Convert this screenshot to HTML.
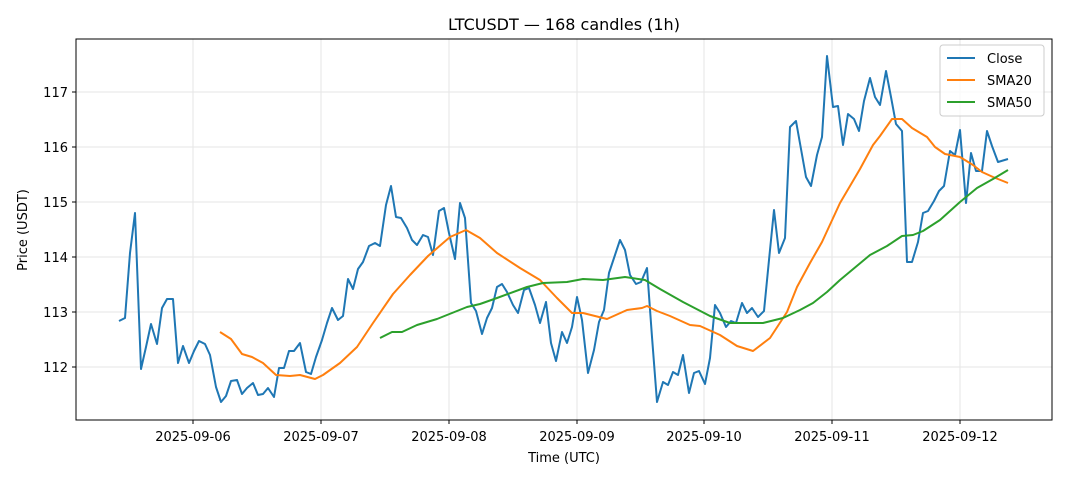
<!DOCTYPE html>
<html><head><meta charset="utf-8"><style>
body{margin:0;background:#fff}
svg{display:block;font-family:"DejaVu Sans","Liberation Sans",sans-serif}
</style></head><body>
<svg width="1068" height="481" viewBox="0 0 1068 481">
<rect width="1068" height="481" fill="#fff"/>
<g stroke="#e6e6e6" stroke-width="1">
<line x1="193" y1="39" x2="193" y2="420"/><line x1="321" y1="39" x2="321" y2="420"/><line x1="449" y1="39" x2="449" y2="420"/><line x1="577" y1="39" x2="577" y2="420"/><line x1="704" y1="39" x2="704" y2="420"/><line x1="832" y1="39" x2="832" y2="420"/><line x1="960" y1="39" x2="960" y2="420"/>
<line x1="76" y1="92" x2="1052" y2="92"/><line x1="76" y1="147" x2="1052" y2="147"/><line x1="76" y1="202" x2="1052" y2="202"/><line x1="76" y1="257" x2="1052" y2="257"/><line x1="76" y1="312" x2="1052" y2="312"/><line x1="76" y1="367" x2="1052" y2="367"/>
</g>
<g fill="none" stroke-width="2" stroke-linejoin="round">
<polyline stroke="#1f77b4" points="119,321 125,318 130,253 135,213 141,369 146,347 151,324 157,344 162,308 167,299 173,299 178,363 183,346 189,363 194,351 199,341 205,344 210,355 216,387 221,402 226,396 231,381 237,380 242,394 247,388 253,383 258,395 263,394 268,388 274,397 279,368 284,368 289,351 294,351 300,343 306,372 311,374 316,357 322,340 327,323 332,308 338,320 343,316 348,279 353,289 358,269 363,262 369,246 375,243 380,246 386,205 391,186 396,217 401,218 407,228 412,240 417,245 423,235 428,237 433,255 439,211 444,208 449,233 455,259 460,203 465,218 471,303 476,311 482,334 487,318 492,308 497,287 502,284 507,292 513,305 518,313 524,290 529,288 535,305 540,323 546,302 551,343 556,361 562,332 567,343 572,327 577,297 582,320 588,373 594,350 599,322 604,310 609,273 615,255 620,240 625,250 630,275 636,284 641,282 647,268 652,337 657,402 663,382 668,385 673,372 678,375 683,355 689,393 694,373 699,371 705,384 710,358 715,305 720,313 726,327 731,321 736,323 742,303 747,313 752,308 758,317 764,311 769,260 774,210 779,253 785,238 790,127 796,121 806,177 811,186 817,155 822,137 827,56 833,107 838,106 843,145 848,114 854,119 859,131 864,101 870,78 875,97 880,105 886,71 891,97 896,124 902,131 907,262 912,262 918,242 923,213 928,211 934,201 939,191 944,186 950,151 955,155 960,130 966,203 971,153 976,171 982,171 987,131 992,146 998,162 1008,159"/>
<polyline stroke="#ff7f0e" points="220,332 231,339 242,354 252,357 263,363 276,375 290,376 300,375 315,379 323,375 340,363 357,347 373,323 393,294 410,275 428,256 450,237 466,230 480,238 497,253 520,268 540,280 557,298 572,313 583,313 607,319 627,310 642,308 647,306 657,311 670,316 690,325 700,326 720,335 737,346 753,351 770,338 787,312 797,287 810,263 822,242 840,203 860,169 873,145 880,136 892,119 902,119 912,128 927,137 935,147 945,154 960,157 973,165 982,172 993,177 1008,183"/>
<polyline stroke="#2ca02c" points="380,338 392,332 402,332 417,325 437,319 467,307 480,304 497,298 527,287 543,283 567,282 583,279 603,280 625,277 645,280 660,289 683,302 710,316 730,323 763,323 783,318 800,310 813,303 827,292 840,280 852,270 870,255 887,246 902,236 913,235 923,231 940,220 960,202 977,188 993,179 1008,170"/>
</g>
<rect x="76" y="39" width="976" height="381" fill="none" stroke="#000" stroke-width="1"/>
<g stroke="#000" stroke-width="1">
<line x1="193" y1="420" x2="193" y2="424"/><line x1="321" y1="420" x2="321" y2="424"/><line x1="449" y1="420" x2="449" y2="424"/><line x1="577" y1="420" x2="577" y2="424"/><line x1="704" y1="420" x2="704" y2="424"/><line x1="832" y1="420" x2="832" y2="424"/><line x1="960" y1="420" x2="960" y2="424"/>
<line x1="72" y1="92" x2="76" y2="92"/><line x1="72" y1="147" x2="76" y2="147"/><line x1="72" y1="202" x2="76" y2="202"/><line x1="72" y1="257" x2="76" y2="257"/><line x1="72" y1="312" x2="76" y2="312"/><line x1="72" y1="367" x2="76" y2="367"/>
</g>
<g font-size="13" fill="#000" text-anchor="middle">
<text x="193" y="441">2025-09-06</text><text x="321" y="441">2025-09-07</text><text x="449" y="441">2025-09-08</text><text x="577" y="441">2025-09-09</text><text x="704" y="441">2025-09-10</text><text x="832" y="441">2025-09-11</text><text x="960" y="441">2025-09-12</text>
</g>
<g font-size="13" fill="#000" text-anchor="end">
<text x="68" y="97">117</text><text x="68" y="152">116</text><text x="68" y="207">115</text><text x="68" y="262">114</text><text x="68" y="317">113</text><text x="68" y="372">112</text>
</g>
<text x="564" y="462" font-size="13" text-anchor="middle">Time (UTC)</text>
<text transform="translate(27,230) rotate(-90)" font-size="13" text-anchor="middle">Price (USDT)</text>
<text x="564" y="30" font-size="16" text-anchor="middle">LTCUSDT — 168 candles (1h)</text>
<rect x="940" y="45" width="104" height="71" rx="3" fill="#fff" fill-opacity="0.8" stroke="#ccc"/>
<g stroke-width="2"><line x1="947" y1="58" x2="975" y2="58" stroke="#1f77b4"/><line x1="947" y1="80" x2="975" y2="80" stroke="#ff7f0e"/><line x1="947" y1="102" x2="975" y2="102" stroke="#2ca02c"/></g>
<g font-size="13"><text x="987" y="63">Close</text><text x="987" y="85">SMA20</text><text x="987" y="107">SMA50</text></g>
</svg>
</body></html>
